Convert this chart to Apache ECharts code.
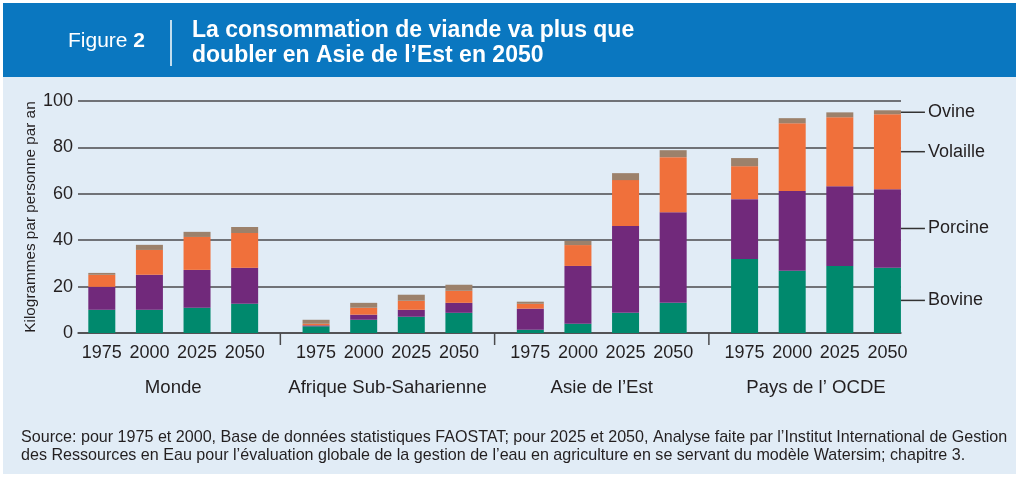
<!DOCTYPE html>
<html>
<head>
<meta charset="utf-8">
<script src="https://cdn.jsdelivr.net/npm/echarts@6/dist/echarts.min.js"></script>
<style>
html, body { margin: 0; padding: 0; background: #fff; }
#chart { width: 1019px; height: 477px; }
</style>
</head>
<body>
<div id="chart"></div>
<script>
// donnees (kg par personne et par an)
var regions = ['Monde', 'Afrique Sub-Saharienne', 'Asie de l’Est', 'Pays de l’ OCDE'];
var years = ['1975', '2000', '2025', '2050'];
var seriesNames = ['Bovine', 'Porcine', 'Volaille', 'Ovine'];
var bovine   = [10.0, 10.0, 10.9, 12.6,  2.9, 5.7, 7.0, 8.7,  1.4,  4.0,  8.7, 13.0,  31.9, 26.8, 28.9, 28.1];
var porcine  = [ 9.9, 15.1, 16.3, 15.5,  0.4, 2.2, 3.0, 4.3,  9.1, 24.9, 37.4, 39.1,  25.8, 34.4, 34.4, 33.9];
var volaille = [ 5.2, 10.7, 14.2, 15.0,  0.7, 3.0, 3.9, 5.2,  2.1,  9.0, 19.8, 23.7,  14.2, 29.2, 29.7, 32.3];
var ovine    = [ 0.8,  2.2,  2.2,  2.6,  1.7, 2.1, 2.6, 2.6,  0.9,  1.8,  3.0,  3.0,   3.5,  2.2,  2.1,  1.7];
var yTicks = [0, 20, 40, 60, 80, 100];

var colors = ['#00896d', '#71297b', '#f0703b', '#9c816b'];
var ink = '#231f20';
var gridColor = '#4a4a4c';
var font = '"Liberation Sans", Arial, sans-serif';

// position d'une barre sur l'axe x : 9 pas par region, 2 pas entre annees
function barPos(g, m) { return g * 9 + m * 2; }
function groupCenter(g) { return barPos(g, 0) + 3; }

var allValues = [bovine, porcine, volaille, ovine];
var series = [];
for (var s = 0; s < allValues.length; s++) {
	var data = [];
	for (var g = 0; g < regions.length; g++) {
		for (var m = 0; m < years.length; m++) {
			var k = g * years.length + m;
			var item = { value: [allValues[s][k], barPos(g, m)] };
			if (k == bovine.length - 1) {
				item.label = {
					show: true,
					position: 'right',
					distance: 0,
					formatter: '{l|}{t|' + seriesNames[s] + '}',
					rich: {
						l: { width: 24, height: 1.5, backgroundColor: '#333', verticalAlign: 'middle' },
						t: { fontSize: 18, color: ink, fontFamily: font, padding: [0, 0, 0, 3], verticalAlign: 'middle' }
					}
				};
			}
			data.push(item);
		}
	}
	series.push({
		name: seriesNames[s],
		type: 'bar',
		stack: 'viande',
		barWidth: 27,
		encode: { x: 1, y: 0 },
		itemStyle: { color: colors[s] },
		data: data
	});
}

// traits separant les regions sous l'axe
var sepData = [];
for (var g = 1; g < regions.length; g++) {
	sepData.push([barPos(g, 0) - 1.5, 0]);
}
series.push({
	type: 'custom',
	silent: true,
	clip: false,
	data: sepData,
	renderItem: function(params, api) {
		var p = api.coord([api.value(0), api.value(1)]);
		return {
			type: 'line',
			shape: { x1: p[0], y1: p[1], x2: p[0], y2: p[1] + 12 },
			style: { stroke: gridColor, lineWidth: 1.5 }
		};
	}
});

function yearLabel(v) {
	for (var g = 0; g < regions.length; g++) {
		for (var m = 0; m < years.length; m++) {
			if (Math.abs(barPos(g, m) - v) < 0.01) return years[m];
		}
	}
	return '';
}
function regionLabel(v) {
	for (var g = 0; g < regions.length; g++) {
		if (Math.abs(groupCenter(g) - v) < 0.01) return regions[g];
	}
	return '';
}

var xMin = -1, xMax = barPos(regions.length - 1, years.length - 1) + 0.57;

var myChart = echarts.init(document.getElementById('chart'), null, { renderer: 'canvas' });
var option = {
	backgroundColor: '#ffffff',
	animation: false,
	textStyle: { fontFamily: font },
	grid: { left: 78, right: 118, top: 101, height: 232, containLabel: false },
	xAxis: [{
		type: 'value',
		min: xMin,
		max: xMax,
		interval: 1,
		position: 'bottom',
		axisLine: { show: true, onZero: false, lineStyle: { color: gridColor, width: 1.5 } },
		axisTick: { show: false },
		splitLine: { show: false },
		axisLabel: { formatter: yearLabel, fontSize: 18, color: ink, margin: 11, fontFamily: font }
	}, {
		type: 'value',
		min: xMin,
		max: xMax,
		interval: 1,
		position: 'bottom',
		axisLine: { show: false },
		axisTick: { show: false },
		splitLine: { show: false },
		axisLabel: { formatter: regionLabel, fontSize: 18.6, color: ink, margin: 45, fontFamily: font }
	}],
	yAxis: {
		type: 'value',
		min: yTicks[0],
		max: yTicks[yTicks.length - 1],
		interval: 20,
		name: 'Kilogrammes par personne par an',
		nameLocation: 'middle',
		nameRotate: 90,
		nameGap: 40,
		nameMoveOverlap: false,
		nameTextStyle: { fontSize: 15.3, color: ink, fontFamily: font },
		axisLine: { show: false },
		axisTick: { show: false },
		splitLine: { show: true, lineStyle: { color: gridColor, width: 1.5 } },
		axisLabel: { fontSize: 18, color: ink, margin: 5, fontFamily: font }
	},
	graphic: [
		{ type: 'rect', z: -10, shape: { x: 3, y: 3, width: 1013, height: 74 }, style: { fill: '#0a77c0' } },
		{ type: 'rect', z: -10, shape: { x: 3, y: 77, width: 1013, height: 397 }, style: { fill: '#e1ecf6' } },
		{
			type: 'text', left: 68, top: 31,
			style: {
				text: '{a|Figure }{b|2}',
				rich: {
					a: { fontSize: 21, fill: '#fff', fontFamily: font },
					b: { fontSize: 21, fill: '#fff', fontWeight: 'bold', fontFamily: font }
				}
			}
		},
		{ type: 'line', shape: { x1: 171, y1: 20, x2: 171, y2: 66 }, style: { stroke: '#ffffff', lineWidth: 1.5 } },
		{
			type: 'text', left: 192, top: 18,
			style: {
				text: 'La consommation de viande va plus que\ndoubler en Asie de l’Est en 2050',
				fill: '#fff', fontSize: 23, fontWeight: 'bold', lineHeight: 25, fontFamily: font
			}
		},
		{
			type: 'text', left: 21, top: 428,
			style: {
				text: 'Source: pour 1975 et 2000, Base de données statistiques FAOSTAT; pour 2025 et 2050, Analyse faite par l’Institut International de Gestion\ndes Ressources en Eau pour l’évaluation globale de la gestion de l’eau en agriculture en se servant du modèle Watersim; chapitre 3.',
				fill: ink, fontSize: 16.1, lineHeight: 18.5, fontFamily: font
			}
		}
	],
	series: series
};
myChart.setOption(option);
</script>
</body>
</html>
